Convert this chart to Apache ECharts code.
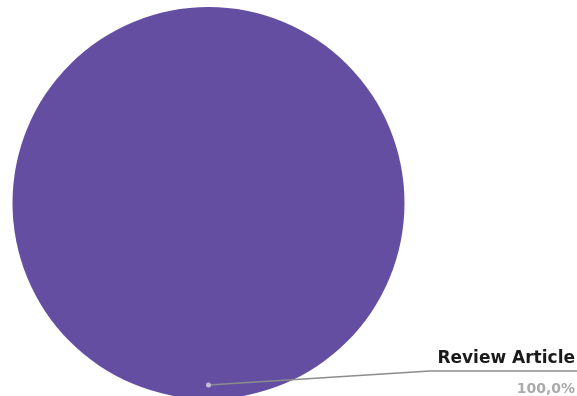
<!DOCTYPE html>
<html>
<head>
<meta charset="utf-8">
<script src="https://cdn.jsdelivr.net/npm/echarts@6/dist/echarts.min.js"></script>
<style>html,body{margin:0;padding:0;background:#fff}#c{width:577px;height:396px}</style>
</head>
<body>
<div id="c"></div>
<script>
const categories = ['Review Article'];
const values = [1];
const colors = ['#644ea2'];

const CX = 208.5, CY = 203, R = 196;
const chart = echarts.init(document.getElementById('c'), null, {renderer: 'canvas'});
chart.setOption({
  animation: false,
  backgroundColor: '#fff',
  series: [{
    type: 'pie',
    center: [CX, CY],
    radius: [0, R],
    startAngle: 90,
    silent: true,
    data: categories.map((c, i) => ({name: c, value: values[i], itemStyle: {color: colors[i]}})),
    itemStyle: {borderWidth: 0},
    label: {
      show: true,
      position: 'outside',
      formatter: p => '{n|' + p.name + '}\n{p|' + p.percent.toFixed(1).replace('.', ',') + '%}',
      rich: {
        n: {fontFamily: 'DejaVu Sans', fontWeight: 'bold', fontSize: 17, color: '#1a1a1a', lineHeight: 30, align: 'right'},
        p: {fontFamily: 'DejaVu Sans', fontWeight: 'bold', fontSize: 14, color: '#aaaaaa', lineHeight: 30, align: 'right'}
      }
    },
    labelLine: {show: false},
    labelLayout: function () {
      return {x: 575, y: 374, align: 'right', verticalAlign: 'middle'};
    }
  }],
  graphic: [{
    type: 'polyline', silent: true, z: 100,
    shape: {points: [[CX, CY + R - 14], [430, 371], [577, 371]]},
    style: {stroke: '#8c8c8c', lineWidth: 1.5, fill: null}
  }, {
    type: 'circle', silent: true, z: 101,
    shape: {cx: CX, cy: CY + R - 14, r: 2.5},
    style: {fill: '#c4bcd6'}
  }]
});
</script>
</body>
</html>
